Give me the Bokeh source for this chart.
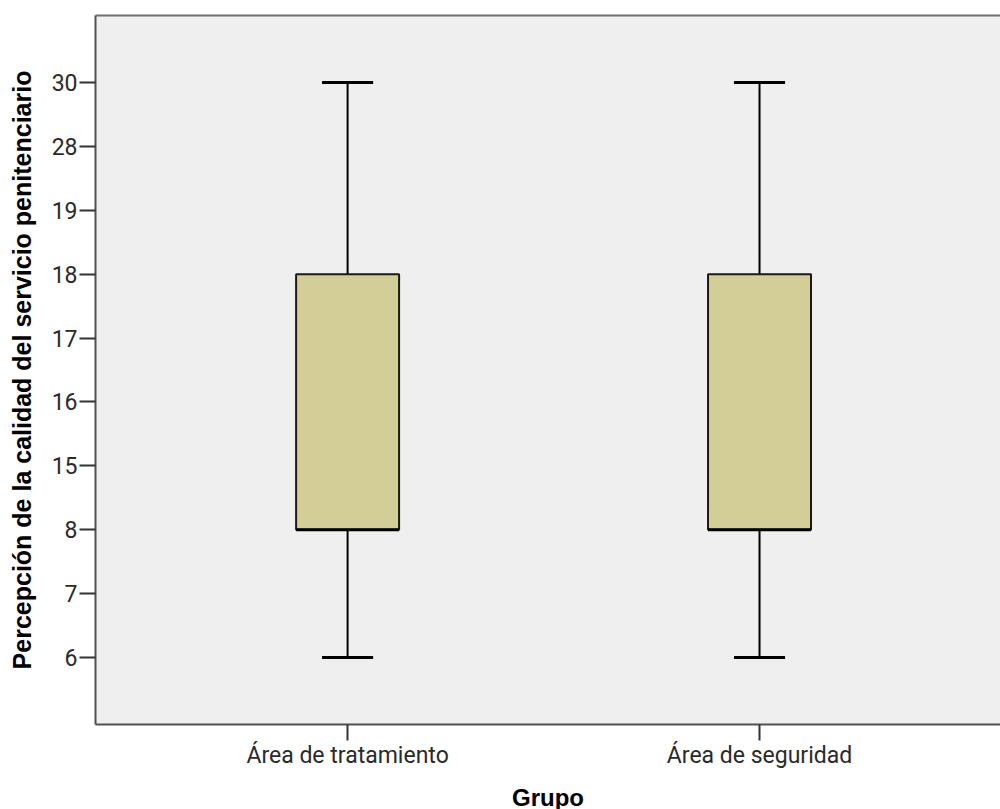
from bokeh.plotting import figure
from bokeh.models import Range1d, LinearAxis, FixedTicker
from bokeh.embed import file_html
from bokeh.resources import INLINE

# ---- data ----
groups = ["Área de tratamiento", "Área de seguridad"]
y_levels = ["6", "7", "8", "15", "16", "17", "18", "19", "28", "30"]
whisker_low = ["6", "6"]
q1 = ["8", "8"]
median = ["8", "8"]
q3 = ["18", "18"]
whisker_high = ["30", "30"]

x_title = "Grupo"
y_title = "Percepción de la calidad del servicio penitenciario"

# ---- mapping to positions ----
lvl = {v: i for i, v in enumerate(y_levels)}
xs = [i + 1 for i in range(len(groups))]
lo = [lvl[v] for v in whisker_low]
b1 = [lvl[v] for v in q1]
md = [lvl[v] for v in median]
b3 = [lvl[v] for v in q3]
hi = [lvl[v] for v in whisker_high]

box_w = 0.25
cap_w = 0.124

p = figure(frame_width=905, frame_height=709,
           min_border_left=95, min_border_right=0,
           min_border_top=15, min_border_bottom=85,
           x_range=Range1d(0.388, 2.585), y_range=Range1d(-1.05, 10.05),
           output_backend="svg", toolbar_location=None,
           background_fill_color="#EFEFEF", border_fill_color="white",
           outline_line_color=None)
p.xgrid.visible = False
p.ygrid.visible = False

# whiskers
p.segment(x0=xs, y0=lo, x1=xs, y1=b1, line_color="black", line_width=2)
p.segment(x0=xs, y0=b3, x1=xs, y1=hi, line_color="black", line_width=2)
# caps
p.segment(x0=[x - cap_w / 2 for x in xs], y0=lo, x1=[x + cap_w / 2 for x in xs], y1=lo,
          line_color="black", line_width=3)
p.segment(x0=[x - cap_w / 2 for x in xs], y0=hi, x1=[x + cap_w / 2 for x in xs], y1=hi,
          line_color="black", line_width=3)
# boxes
p.vbar(x=xs, width=box_w, bottom=b1, top=b3, fill_color="#D3CE97",
       line_color="#1a1a1a", line_width=2)
# median
p.segment(x0=[x - box_w / 2 for x in xs], y0=md, x1=[x + box_w / 2 for x in xs], y1=md,
          line_color="black", line_width=3)

# axes
xa = p.xaxis[0]
xa.ticker = FixedTicker(ticks=xs)
xa.major_label_overrides = {x: g for x, g in zip(xs, groups)}
xa.axis_label = x_title
ya = p.yaxis[0]
ya.ticker = FixedTicker(ticks=list(range(len(y_levels))))
ya.major_label_overrides = {i: v for i, v in enumerate(y_levels)}
ya.axis_label = y_title

for ax in (xa, ya):
    ax.axis_line_color = "#505050"
    ax.axis_line_width = 2
    ax.major_tick_line_color = "#333333"
    ax.major_tick_line_width = 2
    ax.major_tick_in = 0
    ax.major_tick_out = 16
    ax.minor_tick_out = 0
    ax.minor_tick_in = 0
    ax.major_label_text_font = "Roboto"
    ax.major_label_text_font_size = "23px"
    ax.major_label_text_color = "#2a2a2a"
    ax.axis_label_text_font = "Liberation Sans"
    ax.axis_label_text_font_style = "bold"
    ax.axis_label_text_color = "black"
xa.axis_label_text_font_size = "24px"
ya.axis_label_text_font_size = "25px"
xa.major_label_standoff = 1
ya.major_label_standoff = 2
xa.axis_label_standoff = 12
ya.axis_label_standoff = 13

top_ax = LinearAxis(ticker=FixedTicker(ticks=[]), axis_line_color="#707070",
                    axis_line_width=2, major_tick_out=0, major_tick_in=0,
                    minor_tick_out=0, minor_tick_in=0,
                    major_label_text_font_size="0px", major_label_standoff=0)
p.add_layout(top_ax, "above")

open("out.html", "w").write(file_html(p, INLINE))
